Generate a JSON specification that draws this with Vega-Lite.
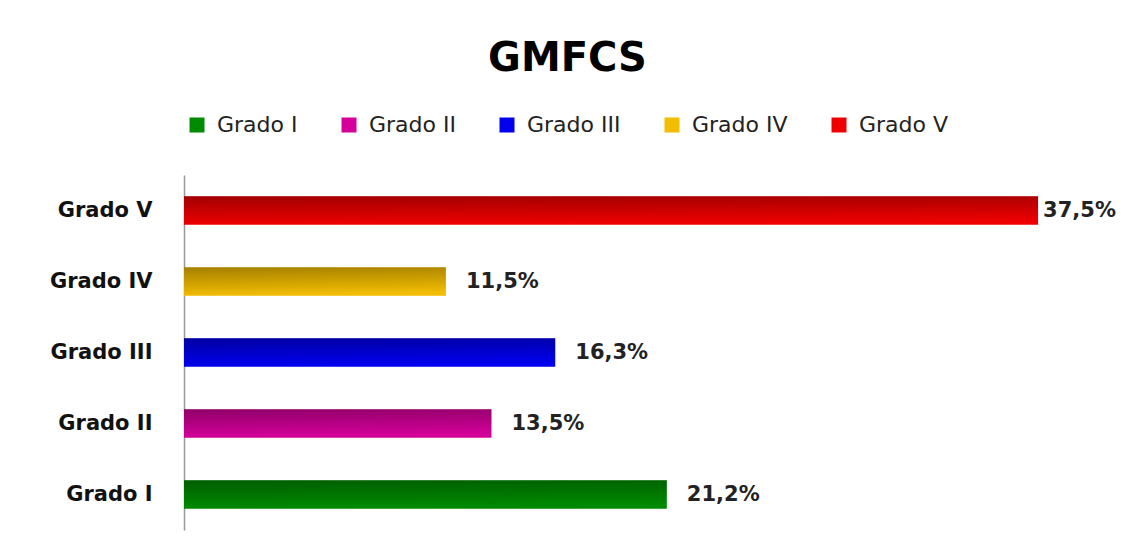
{
  "$schema": "https://vega.github.io/schema/vega-lite/v6.json",
  "width": 911,
  "height": 355,
  "autosize": {"type": "none"},
  "padding": {"left": 184, "top": 175, "right": 31, "bottom": 24},
  "background": "white",
  "config": {
    "view": {"stroke": null},
    "font": "DejaVu Sans",
    "locale": {"number": {"decimal": ",", "thousands": ".", "grouping": [3], "currency": ["", " €"]}}
  },
  "title": {
    "text": "GMFCS",
    "font": "DejaVu Sans",
    "fontSize": 40,
    "fontWeight": "bold",
    "color": "#000000",
    "anchor": "middle",
    "frame": "group",
    "dx": -72,
    "offset": 35
  },
  "data": {
    "values": [
      {"grado": "Grado I", "valor": 0.212},
      {"grado": "Grado II", "valor": 0.135},
      {"grado": "Grado III", "valor": 0.163},
      {"grado": "Grado IV", "valor": 0.115},
      {"grado": "Grado V", "valor": 0.375}
    ]
  },
  "encoding": {
    "y": {
      "field": "grado",
      "type": "nominal",
      "sort": ["Grado V", "Grado IV", "Grado III", "Grado II", "Grado I"],
      "scale": {"paddingInner": 0.6, "paddingOuter": 0.3},
      "axis": {
        "title": null,
        "ticks": false,
        "labelPadding": 32,
        "labelFont": "DejaVu Sans",
        "labelFontSize": 21,
        "labelFontWeight": "bold",
        "labelColor": "#111111",
        "domainColor": "#999999",
        "domainWidth": 1.5
      }
    }
  },
  "layer": [
    {
      "mark": {"type": "bar"},
      "encoding": {
        "x": {"field": "valor", "type": "quantitative", "scale": {"domain": [0, 0.4], "nice": false}, "axis": null},
        "color": {
          "field": "grado",
          "type": "nominal",
          "scale": {
            "domain": ["Grado I", "Grado II", "Grado III", "Grado IV", "Grado V"],
            "range": ["#008a00", "#d4009a", "#0000ee", "#f2bc00", "#ee0000"]
          },
          "legend": {
            "title": null,
            "orient": "none",
            "legendX": 2,
            "legendY": -61,
            "direction": "horizontal",
            "symbolType": "square",
            "symbolSize": 225,
            "symbolStrokeWidth": 0,
            "symbolOpacity": 1,
            "labelFont": "DejaVu Sans",
            "labelFontSize": 22,
            "labelColor": "#222222",
            "columnPadding": 40,
            "labelOffset": 9,
            "padding": 0
          }
        }
      }
    },
    {
      "mark": {
        "type": "bar",
        "color": {
          "gradient": "linear",
          "x1": 0, "y1": 0, "x2": 0.15, "y2": 1,
          "stops": [
            {"offset": 0, "color": "rgba(0,0,0,0.32)"},
            {"offset": 1, "color": "rgba(0,0,0,0)"}
          ]
        }
      },
      "encoding": {
        "x": {"field": "valor", "type": "quantitative", "scale": {"domain": [0, 0.4], "nice": false}}
      }
    },
    {
      "transform": [{"calculate": "datum.valor > 0.35 ? datum.valor + 0.0022 : datum.valor + 0.0088", "as": "lx"}],
      "mark": {"type": "text", "align": "left", "baseline": "middle", "font": "DejaVu Sans", "fontSize": 21, "fontWeight": "bold", "color": "#222222"},
      "encoding": {
        "x": {"field": "lx", "type": "quantitative", "scale": {"domain": [0, 0.4], "nice": false}},
        "text": {"field": "valor", "type": "quantitative", "format": ".1%"}
      }
    }
  ]
}
